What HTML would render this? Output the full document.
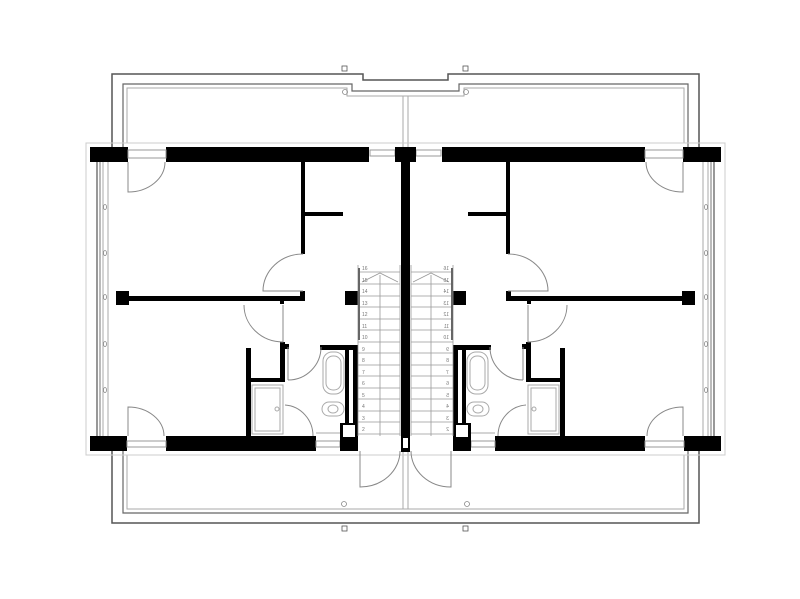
<!DOCTYPE html>
<html><head><meta charset="utf-8"><style>html,body{margin:0;padding:0;background:#fff}svg{display:block}</style></head>
<body>
<svg width="800" height="599" viewBox="0 0 800 599" xmlns="http://www.w3.org/2000/svg">
<defs>
<g id="half">
  <!-- roof outline -->
  <polyline points="405.5,80 363,80 363,74 112,74 112,147" fill="none" stroke="#555" stroke-width="1.5"/>
  <polyline points="112,451 112,523 405.5,523" fill="none" stroke="#555" stroke-width="1.5"/>
  <polyline points="405.5,91 352,91 352,84 123,84 123,147" fill="none" stroke="#666" stroke-width="1.2"/>
  <polyline points="405.5,96 347,96 347,88 127,88 127,143" fill="none" stroke="#aaa" stroke-width="1"/>
  <polyline points="123,451 123,513 405.5,513" fill="none" stroke="#666" stroke-width="1.2"/>
  <polyline points="127,455 127,509 405.5,509" fill="none" stroke="#aaa" stroke-width="1"/>
  <line x1="403" y1="96" x2="403" y2="147" stroke="#aaa"/>
  <line x1="403" y1="451" x2="403" y2="509" stroke="#aaa"/>
  <!-- outer gray frame -->
  <polyline points="405.5,143 86,143 86,455 405.5,455" fill="none" stroke="#ccc" stroke-width="1"/>
  <line x1="97" y1="162" x2="97" y2="436" stroke="#555" stroke-width="1.2"/>
  <line x1="100" y1="162" x2="100" y2="436" stroke="#777" stroke-width="1"/>
  <line x1="103" y1="162" x2="103" y2="436" stroke="#aaa" stroke-width="1"/>
  <line x1="108" y1="162" x2="108" y2="436" stroke="#aaa" stroke-width="1"/>
  <g fill="none" stroke="#888" stroke-width="0.8">
    <ellipse cx="105" cy="207" rx="1.5" ry="2.5"/><ellipse cx="105" cy="253" rx="1.5" ry="2.5"/>
    <ellipse cx="105" cy="297" rx="1.5" ry="2.5"/><ellipse cx="105" cy="344" rx="1.5" ry="2.5"/>
    <ellipse cx="105" cy="390" rx="1.5" ry="2.5"/>
    <circle cx="345" cy="92" r="2.5"/><circle cx="344" cy="504" r="2.5"/>
  </g>
  <!-- top wall -->
  <rect x="90" y="147" width="38" height="15" fill="#000"/>
  <rect x="166" y="147" width="203" height="15" fill="#000"/>
  <rect x="128" y="150" width="38" height="8" fill="none" stroke="#999"/>
  <rect x="370" y="150" width="25" height="6" fill="none" stroke="#999"/>
  <rect x="395" y="147" width="11" height="15" fill="#000"/>
  <!-- center wall -->
  <rect x="401" y="162" width="5" height="290" fill="#000"/>
  <rect x="401" y="436" width="5" height="15" fill="#000"/>
  <rect x="403" y="438" width="3" height="10" fill="#fff"/>
  <!-- bottom wall -->
  <rect x="90" y="436" width="37" height="15" fill="#000"/>
  <rect x="166" y="436" width="150" height="15" fill="#000"/>
  <rect x="127" y="441" width="39" height="6" fill="none" stroke="#999"/>
  <rect x="316" y="441" width="24" height="6" fill="none" stroke="#999"/>
  <rect x="340" y="423" width="18" height="28" fill="#000"/>
  <rect x="343" y="425" width="12" height="12" fill="#fff"/>
  <!-- interior walls -->
  <rect x="301" y="162" width="4" height="92" fill="#000"/>
  <rect x="305" y="212" width="38" height="4" fill="#000"/>
  <rect x="116" y="291" width="13" height="14" fill="#000"/>
  <rect x="129" y="296" width="175" height="5" fill="#000"/>
  <rect x="300" y="291" width="5" height="10" fill="#000"/>
  <rect x="280" y="300" width="4" height="4" fill="#000"/>
  <rect x="345" y="291" width="14" height="14" fill="#000"/>
  <rect x="246" y="348" width="5" height="88" fill="#000"/>
  <rect x="251" y="378" width="34" height="4" fill="#000"/>
  <rect x="280" y="342" width="5" height="40" fill="#000"/>
  <rect x="285" y="344" width="4" height="5" fill="#000"/>
  <rect x="320" y="345" width="38" height="5" fill="#000"/>
  <rect x="345" y="350" width="4" height="74" fill="#000"/>
  <rect x="353" y="350" width="5" height="74" fill="#000"/>
  <!-- doors -->
  <g fill="none" stroke="#888" stroke-width="1">
    <path d="M128,162 L128,192 A37,30 0 0 0 165,162"/>
    <path d="M303,254 A40,37 0 0 0 263,291 L303,291"/>
    <path d="M244,305 A39,37 0 0 0 283,342 L283,305"/>
    <path d="M288,380 L288,347 M288,380 A33,33 0 0 0 321,347"/>
    <path d="M285,405 A30,31 0 0 1 313,436"/>
    <path d="M128,436 L128,407 A36,29 0 0 1 164,436"/>
    <path d="M360,451 L360,487 A40,36 0 0 0 400,451"/>
  </g>
  <!-- fixtures -->
  <g fill="none" stroke="#aaa" stroke-width="1">
    <rect x="323" y="352" width="21" height="42" rx="9"/>
    <rect x="326" y="356" width="15" height="34" rx="7"/>
    <rect x="322" y="402" width="22" height="14" rx="7"/>
    <ellipse cx="333" cy="409" rx="5" ry="4"/>
    <rect x="252" y="385" width="31" height="49"/>
    <rect x="255" y="388" width="25" height="43"/>
    <circle cx="277" cy="409" r="2"/>
    <line x1="316" y1="433" x2="340" y2="433"/>
  </g>
  <!-- stairs -->
  <g stroke="#999" stroke-width="0.8" fill="none">
    <line x1="358" y1="265" x2="358" y2="436"/>
    <line x1="380" y1="275" x2="380" y2="436"/>
    <line x1="400" y1="265" x2="400" y2="436"/>
    <polyline points="362,282 380,273 398,282"/>
    <line x1="358" y1="272" x2="400" y2="272"/>
    <line x1="358" y1="284" x2="400" y2="284"/>
    <line x1="358" y1="296" x2="400" y2="296"/>
    <line x1="358" y1="307" x2="400" y2="307"/>
    <line x1="358" y1="319" x2="400" y2="319"/>
    <line x1="358" y1="330" x2="400" y2="330"/>
    <line x1="358" y1="342" x2="400" y2="342"/>
    <line x1="358" y1="353" x2="400" y2="353"/>
    <line x1="358" y1="365" x2="400" y2="365"/>
    <line x1="358" y1="376" x2="400" y2="376"/>
    <line x1="358" y1="388" x2="400" y2="388"/>
    <line x1="358" y1="399" x2="400" y2="399"/>
    <line x1="358" y1="411" x2="400" y2="411"/>
    <line x1="358" y1="422" x2="400" y2="422"/>
    <line x1="358" y1="434" x2="400" y2="434"/>
  </g>
  <line x1="359" y1="268" x2="359" y2="340" stroke="#666" stroke-width="2"/>
  <g font-family="Liberation Sans, sans-serif" font-size="5" fill="#777">
    <text x="362" y="270">16</text><text x="362" y="282">15</text><text x="362" y="293">14</text>
    <text x="362" y="305">13</text><text x="362" y="316">12</text><text x="362" y="328">11</text>
    <text x="362" y="339">10</text><text x="362" y="351">9</text><text x="362" y="362">8</text>
    <text x="362" y="374">7</text><text x="362" y="385">6</text><text x="362" y="397">5</text>
    <text x="362" y="408">4</text><text x="362" y="420">3</text><text x="362" y="431">2</text>
  </g>
</g>
</defs>
<use href="#half"/>
<use href="#half" transform="translate(811,0) scale(-1,1)"/>
<g fill="none" stroke="#555" stroke-width="0.8">
  <rect x="342" y="66" width="5" height="5"/><rect x="463" y="66" width="5" height="5"/>
  <rect x="342" y="526" width="5" height="5"/><rect x="463" y="526" width="5" height="5"/>
</g>
</svg>
</body></html>
